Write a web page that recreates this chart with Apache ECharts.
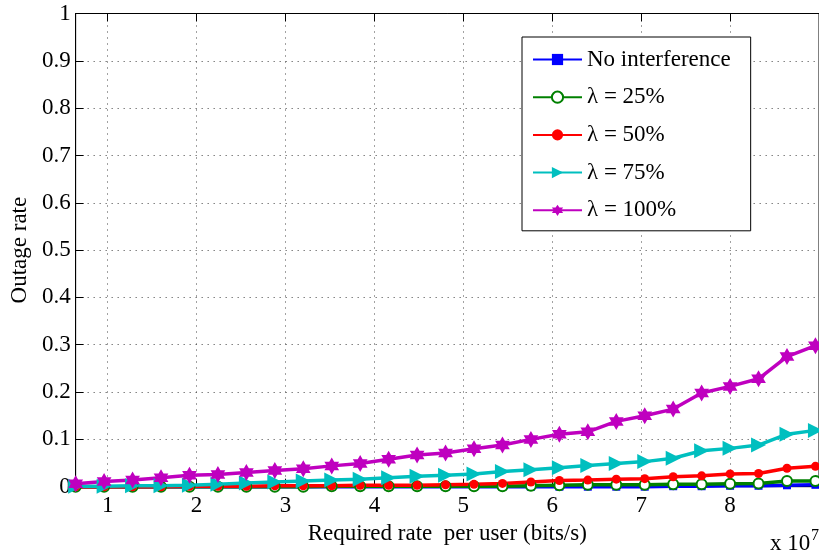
<!DOCTYPE html>
<html>
<head>
<meta charset="utf-8">
<script src="https://cdn.jsdelivr.net/npm/echarts@6/dist/echarts.min.js"></script>
<style>
  html, body { margin: 0; padding: 0; background: #fff; }
  #chart { width: 819px; height: 552px; }
</style>
</head>
<body>
<div id="chart"></div>
<script>
// x values (units of 1e7 bits/s)
const rates = [0.64, 0.96, 1.28, 1.60, 1.92, 2.24, 2.56, 2.88, 3.20, 3.52, 3.84, 4.16, 4.48, 4.80,
  5.12, 5.44, 5.76, 6.08, 6.40, 6.72, 7.04, 7.36, 7.68, 8.00, 8.32, 8.64, 8.96];

const noInterference = [0, 0, 0, 0, 0, 0, 0, 0, 0, 0, 0, 0, 0, 0, 0, 0, 0, 0, 0, 0, 0,
  0.001, 0.001, 0.002, 0.002, 0.003, 0.004];
const lambda25 = [0, 0, 0, 0, 0, 0, 0, 0, 0, 0.001, 0.001, 0.001, 0.001, 0.001, 0.001, 0.001,
  0.002, 0.003, 0.004, 0.004, 0.004, 0.005, 0.005, 0.006, 0.007, 0.012, 0.012];
const lambda50 = [0, 0, 0, 0, 0.001, 0.001, 0.001, 0.002, 0.002, 0.002, 0.003, 0.003, 0.003, 0.004,
  0.005, 0.007, 0.010, 0.013, 0.014, 0.016, 0.017, 0.021, 0.023, 0.027, 0.028, 0.039, 0.043];
const lambda75 = [0.001, 0.001, 0.002, 0.002, 0.003, 0.005, 0.008, 0.010, 0.012, 0.014, 0.016, 0.019,
  0.022, 0.024, 0.027, 0.032, 0.036, 0.040, 0.045, 0.049, 0.053, 0.060, 0.076, 0.081, 0.088, 0.111, 0.119];
const lambda100 = [0.006, 0.011, 0.014, 0.019, 0.024, 0.026, 0.030, 0.034, 0.038, 0.044, 0.049, 0.058,
  0.067, 0.071, 0.080, 0.088, 0.100, 0.111, 0.116, 0.138, 0.150, 0.164, 0.198, 0.212, 0.228, 0.275, 0.298];

const xTicks = [1, 2, 3, 4, 5, 6, 7, 8];
const legendNames = ["No interference", "λ = 25%", "λ = 50%", "λ = 75%", "λ = 100%"];

const FONT = "Liberation Serif";

// six pointed star (matlab hexagram marker)
function hexagram() {
  const pts = [];
  for (let i = 0; i < 12; i++) {
    const r = i % 2 === 0 ? 10 : 10 / Math.sqrt(3);
    const a = (-90 + i * 30) * Math.PI / 180;
    pts.push((r * Math.cos(a)).toFixed(3) + " " + (r * Math.sin(a)).toFixed(3));
  }
  return "path://M" + pts.join(" L") + " Z";
}

const chart = echarts.init(document.getElementById("chart"));

function makeSeries(name, values, color, symbol, size, extra) {
  return Object.assign({
    name: name,
    type: "line",
    data: rates.map((x, i) => [x, values[i]]),
    symbol: symbol,
    symbolSize: size,
    clip: false,
    lineStyle: { width: 3.5, color: color },
    itemStyle: { color: color, borderWidth: 2 },
    emphasis: { disabled: true },
    animation: false
  }, extra || {});
}

const gridLine = { show: true, lineStyle: { color: "#444", width: 1, type: [1, 5] } };

const option = {
  backgroundColor: "#fff",
  grid: {
    left: 74,
    top: 13.5,
    width: 752.4,
    height: 473.2,
    show: true,
    borderColor: "#000",
    borderWidth: 1
  },
  legend: {
    orient: "vertical",
    left: 522,
    top: 37,
    data: legendNames,
    itemWidth: 49,
    itemHeight: 14,
    itemGap: 14.7,
    padding: [11, 20, 9, 10],
    backgroundColor: "#fff",
    borderColor: "#000",
    borderWidth: 1,
    textStyle: { fontFamily: FONT, fontSize: 23, color: "#000" }
  },
  xAxis: [{
    type: "value",
    min: 0.64,
    max: 9,
    name: "Required rate  per user (bits/s)",
    nameLocation: "middle",
    nameGap: 33,
    nameTextStyle: { fontFamily: FONT, fontSize: 23, color: "#000" },
    axisLine: { show: true, lineStyle: { color: "#000", width: 1 } },
    axisTick: { show: true, inside: true, length: 8, customValues: xTicks, lineStyle: { color: "#000" } },
    axisLabel: { customValues: xTicks, margin: 8, fontFamily: FONT, fontSize: 23, color: "#000" },
    splitLine: gridLine
  }, {
    type: "value",
    position: "top",
    min: 0.64,
    max: 9,
    axisLine: { show: true, lineStyle: { color: "#000", width: 1 } },
    axisTick: { show: true, inside: true, length: 8, customValues: xTicks, lineStyle: { color: "#000" } },
    axisLabel: { show: false },
    splitLine: { show: false }
  }],
  yAxis: {
    type: "value",
    min: 0,
    max: 1,
    interval: 0.1,
    name: "Outage rate",
    nameLocation: "middle",
    nameGap: 40,
    nameTextStyle: { fontFamily: FONT, fontSize: 23, color: "#000" },
    axisLine: { show: true, lineStyle: { color: "#000", width: 1 } },
    axisTick: { show: true, inside: true, length: 8, lineStyle: { color: "#000" } },
    axisLabel: {
      margin: 5,
      fontFamily: FONT,
      fontSize: 23,
      color: "#000",
      formatter: v => String(Math.round(v * 10) / 10)
    },
    splitLine: gridLine
  },
  graphic: [
    { type: "text", left: 770, top: 532, style: { text: "x 10", fontFamily: FONT, fontSize: 23, fill: "#000" } },
    { type: "text", left: 811, top: 528, style: { text: "7", fontFamily: FONT, fontSize: 16, fill: "#000" } }
  ],
  series: [
    makeSeries(legendNames[0], noInterference, "#0000ff", "rect", 8),
    makeSeries(legendNames[1], lambda25, "#008000", "emptyCircle", 10),
    makeSeries(legendNames[2], lambda50, "#ff0000", "circle", 9),
    makeSeries(legendNames[3], lambda75, "#00bfbf", "triangle", 15, { symbolRotate: -90 }),
    makeSeries(legendNames[4], lambda100, "#bf00bf", hexagram(), 17, { symbolKeepAspect: true })
  ]
};

chart.setOption(option);
</script>
</body>
</html>
